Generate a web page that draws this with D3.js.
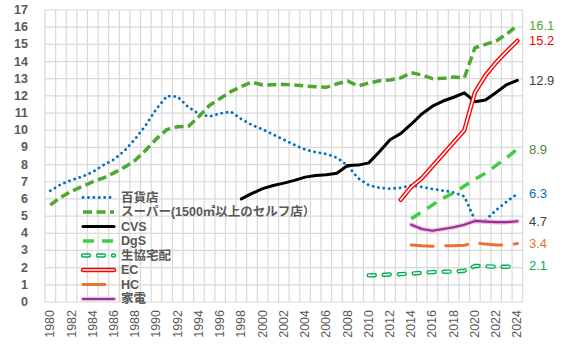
<!DOCTYPE html>
<html><head><meta charset="utf-8">
<script src="https://cdn.jsdelivr.net/npm/d3@7"></script>
<style>body{margin:0;background:#fff}svg{display:block}</style>
</head><body><svg id="c" width="565" height="358"></svg>
<script>
const years = [1980,1981,1982,1983,1984,1985,1986,1987,1988,1989,1990,1991,1992,1993,1994,1995,1996,1997,1998,1999,2000,2001,2002,2003,2004,2005,2006,2007,2008,2009,2010,2011,2012,2013,2014,2015,2016,2017,2018,2019,2020,2021,2022,2023,2024];
const xTickLabels = [1980,1982,1984,1986,1988,1990,1992,1994,1996,1998,2000,2002,2004,2006,2008,2010,2012,2014,2016,2018,2020,2022,2024];
const yTickLabels = [0,1,2,3,4,5,6,7,8,9,10,11,12,13,14,15,16,17];
const seriesNames = ["百貨店","スーパー(1500㎡以上のセルフ店）","CVS","DgS","生協宅配","EC","HC","家電"];

const deptStart = 1980;
const deptValues = [6.48,6.85,7.1,7.3,7.57,7.97,8.3,8.81,9.5,10.3,11.25,12.0,11.95,11.35,10.95,10.8,10.98,11.08,10.65,10.3,10.05,9.75,9.45,9.15,8.88,8.72,8.62,8.4,7.95,7.2,6.8,6.65,6.6,6.65,6.78,6.7,6.58,6.48,6.38,6.15,4.77,4.77,5.35,5.85,6.3];
const superStart = 1980;
const superValues = [5.65,6.1,6.45,6.72,7.0,7.22,7.52,7.85,8.25,8.85,9.5,10.05,10.2,10.22,10.8,11.45,11.85,12.25,12.55,12.8,12.63,12.65,12.67,12.64,12.58,12.53,12.5,12.7,12.87,12.57,12.75,12.88,12.92,13.05,13.35,13.22,13.0,13.02,13.1,13.05,14.8,15.0,15.2,15.6,16.1];
const cvsStart = 1998;
const cvsValues = [6.0,6.32,6.6,6.78,6.92,7.08,7.27,7.36,7.41,7.5,7.95,7.97,8.1,8.75,9.45,9.8,10.35,10.95,11.4,11.7,11.92,12.18,11.66,11.76,12.2,12.66,12.9];
const dgsStart = 2014;
const dgsValues = [4.85,5.25,5.65,6.05,6.35,6.75,7.15,7.5,7.95,8.4,8.9];
const coopStart = 2010;
const coopValues = [1.55,1.57,1.6,1.62,1.66,1.7,1.74,1.76,1.77,1.82,2.1,2.08,2.05,2.05,2.1];
const ecStart = 2013;
const ecValues = [5.95,6.7,7.2,7.9,8.6,9.3,10.0,12.2,13.2,13.95,14.6,15.2];
const hcStart = 2014;
const hcValues = [3.32,3.27,3.25,3.27,3.27,3.3,3.45,3.37,3.32,3.32,3.4];
const kadenStart = 2014;
const kadenValues = [4.5,4.25,4.15,4.25,4.35,4.5,4.72,4.68,4.65,4.65,4.7];

const seriesData = [
  [deptStart, deptValues], [superStart, superValues], [cvsStart, cvsValues], [dgsStart, dgsValues],
  [coopStart, coopValues], [ecStart, ecValues], [hcStart, hcValues], [kadenStart, kadenValues]
];
const styles = [
  [{stroke:"#0070C0", w:2.8, dash:"0.1 5.3", cap:"round"}],
  [{stroke:"#4EA72E", w:3.5, dash:"9 4.5", cap:"butt"}],
  [{stroke:"#000000", w:3, cap:"round"}],
  [{stroke:"#44CC44", w:3.5, dash:"11 8", cap:"butt"}],
  [{stroke:"#00B050", w:4.4, dash:"6 9", cap:"round"},{stroke:"#ffffff", w:1.6, dash:"6 9", cap:"round"}],
  [{stroke:"#FF0000", w:4.4, cap:"round"},{stroke:"#ffffff", w:1.6, cap:"round"}],
  [{stroke:"#E97132", w:3, dash:"22 12.5", cap:"round"}],
  [{stroke:"#E4C2E1", w:4.6, cap:"round"},{stroke:"#A02B93", w:2.2, cap:"round"}]
];
const labelColors = ["#0070C0","#4EA72E","#404040","#4E8A2E","#00B050","#FF0000","#E97132","#404040"];

const svg = d3.select("#c");
const x = d3.scaleBand().domain(years).range([45, 522.7]).padding(0);
const y = d3.scaleLinear().domain([0,17]).range([302,10]);
const cx = yr => x(yr) + x.bandwidth()/2;
const grid = "#D9D9D9";

const gg = svg.append("g");
gg.selectAll("line.h").data(yTickLabels).join("line")
  .attr("x1", 45).attr("x2", 522.7).attr("y1", d=>y(d)).attr("y2", d=>y(d))
  .attr("stroke", grid).attr("stroke-width", 1.2);
const vLines = years.map(d=>x(d)).concat([x(years[years.length-1]) + x.bandwidth()]);
gg.selectAll("line.v").data(vLines).join("line")
  .attr("x1", d=>d).attr("x2", d=>d).attr("y1", y(17)).attr("y2", y(0))
  .attr("stroke", grid).attr("stroke-width", 1.2);

svg.append("g").selectAll("text").data(yTickLabels).join("text")
  .attr("x", 28).attr("y", d=>y(d)).attr("text-anchor","end").attr("dominant-baseline","central")
  .attr("font-family","Liberation Sans, Arial, sans-serif").attr("font-size", 12.5).attr("font-weight","bold")
  .attr("fill","#595959").text(d=>d);

svg.append("g").selectAll("text").data(xTickLabels).join("text")
  .attr("transform", d=>`translate(${cx(d)},310) rotate(-90)`)
  .attr("text-anchor","end").attr("dominant-baseline","central")
  .attr("font-family","Liberation Sans, Arial, sans-serif").attr("font-size", 12.5)
  .attr("fill","#595959").text(d=>d);

const line = d3.line().x(d=>cx(d[0])).y(d=>y(d[1]));
const lg = svg.append("g");
seriesData.forEach(([start, vals], i) => {
  const pts = vals.map((v,k)=>[start+k, v]);
  styles[i].forEach(s => {
    lg.append("path").attr("d", line(pts)).attr("fill","none")
      .attr("stroke", s.stroke).attr("stroke-width", s.w)
      .attr("stroke-dasharray", s.dash || null)
      .attr("stroke-linecap", s.cap).attr("stroke-linejoin","round");
  });
  const last = vals[vals.length-1];
  svg.append("text").attr("x", 529).attr("y", y(last)).attr("dominant-baseline","central")
    .attr("font-family","Liberation Sans, Arial, sans-serif").attr("font-size", 13)
    .attr("fill", labelColors[i]).text(d3.format(".1f")(last));
});

const leg = svg.append("g");
seriesNames.forEach((name, i) => {
  const yy = 197.5 + i*14.5;
  styles[i].forEach(s => {
    leg.append("line").attr("x1", 83).attr("x2", 114).attr("y1", yy).attr("y2", yy)
      .attr("stroke", s.stroke).attr("stroke-width", s.w)
      .attr("stroke-dasharray", s.dash || null).attr("stroke-linecap", s.cap);
  });
  leg.append("text").attr("x", 121).attr("y", yy).attr("dominant-baseline","central")
    .attr("font-family","Liberation Sans, Noto Sans CJK JP, sans-serif").attr("font-size", 12.5).attr("font-weight","bold")
    .attr("fill","#595959").text(name);
});
</script></body></html>
